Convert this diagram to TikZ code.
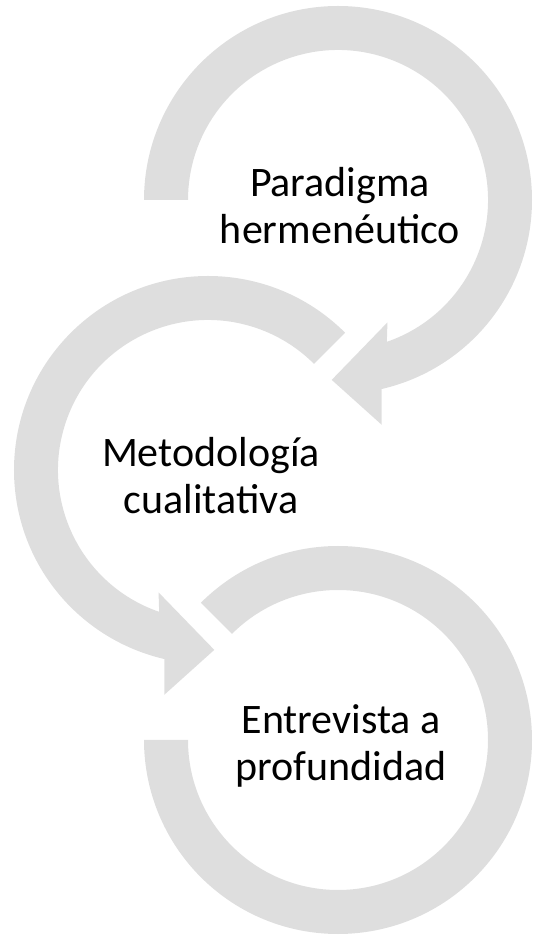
\documentclass[tikz,border=0pt]{standalone}
\usepackage{fontspec}
\setmainfont{Carlito}
\definecolor{arcgray}{RGB}{222,222,222}
\begin{document}
\begin{tikzpicture}[x=1pt,y=1pt,
  band/.style={fill=arcgray,draw=none},
  lbl/.style={font=\fontsize{42}{47}\selectfont,align=center,text=black,inner sep=0pt}]
\useasboundingbox (0,0) rectangle (537,938);
\coordinate (C1) at (338,738);
\coordinate (C2) at (208,468);
\coordinate (C3) at (338,198);
% top circular arrow
\begin{scope}[shift={(C1)}]
\fill[band] (180:194pt) arc[start angle=180,end angle=-77,radius=194pt]
  -- (-79:229pt) -- (-92:180pt) -- (-68:132pt) -- (-71:150pt)
  arc[start angle=-71,end angle=180,radius=150pt] -- cycle;
\end{scope}
% middle circular arrow
\begin{scope}[shift={(C2)}]
\fill[band] (45:194pt) arc[start angle=45,end angle=257,radius=194pt]
  -- (259:229pt) -- (272:180pt) -- (248:132pt) -- (251:150pt)
  arc[start angle=251,end angle=45,radius=150pt] -- cycle;
\end{scope}
% bottom circular band
\begin{scope}[shift={(C3)}]
\fill[band] (135:194pt) arc[start angle=135,end angle=-180,radius=194pt]
  -- (180:150pt) arc[start angle=-180,end angle=135,radius=150pt] -- cycle;
\end{scope}
\node[lbl] (t1) at (340,732) {Paradigma\\hermenéutico};
\node[lbl] (t2) at (211,462) {Metodología\\cualitativa};
\node[lbl] (t3) at (341,192) {Entrevista a\\profundidad};
\end{tikzpicture}
\end{document}
